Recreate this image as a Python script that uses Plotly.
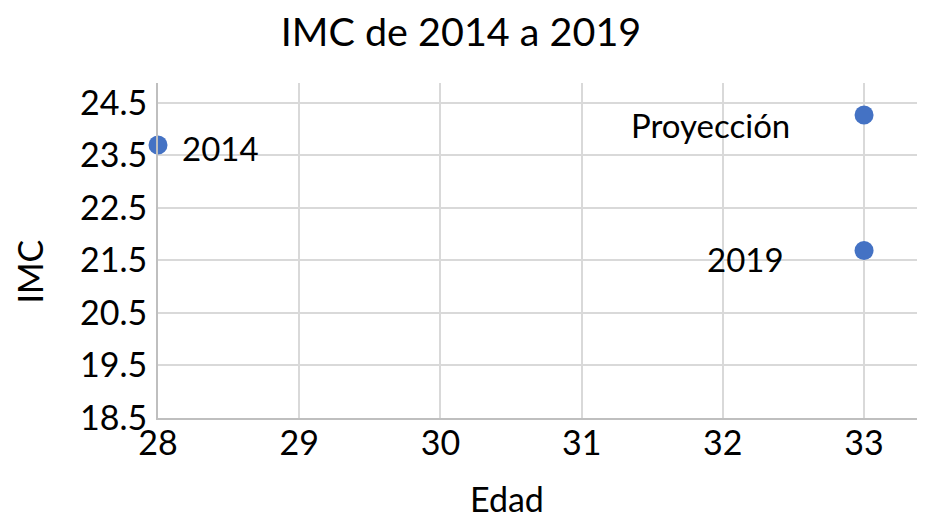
import plotly.graph_objects as go

edad = [28, 33, 33]
imc = [23.70, 24.27, 21.69]
etiquetas = ["2014", "Proyección", "2019"]
y_ticks = [18.5, 19.5, 20.5, 21.5, 22.5, 23.5, 24.5]
x_ticks = [28, 29, 30, 31, 32, 33]

font = "Lato"
fs = 34

fig = go.Figure()
fig.add_trace(go.Scatter(
    x=edad, y=imc, mode="markers",
    marker=dict(color="#4472C4", size=19),
    hoverinfo="skip", showlegend=False, cliponaxis=False,
))

# label placement (offsets in px)
shifts = {"2014": (22, -3, "left"), "Proyección": (-72, -10, "right"), "2019": (-78, -8, "right")}
for x, y, t in zip(edad, imc, etiquetas):
    xs, ys, anc = shifts[t]
    fig.add_annotation(x=x, y=y, text=t, showarrow=False, xanchor=anc, yanchor="middle",
                       xshift=xs, yshift=ys, font=dict(family=font, size=33, color="#000"))

# axis titles
fig.add_annotation(xref="paper", yref="paper", x=0, y=0, text="IMC", textangle=-90,
                   showarrow=False, xanchor="center", yanchor="middle",
                   xshift=-129.5, yshift=146, font=dict(family=font, size=fs, color="#000"))
fig.add_annotation(xref="paper", yref="paper", x=0, y=0, text="Edad",
                   showarrow=False, xanchor="center", yanchor="middle",
                   xshift=349, yshift=-80, font=dict(family=font, size=fs, color="#000"))

fig.update_layout(
    width=923, height=511,
    margin=dict(l=150, r=14, t=75, b=101, autoexpand=False),
    paper_bgcolor="white", plot_bgcolor="white",
    font=dict(family=font, size=fs, color="#000"),
    title=dict(text="IMC de 2014 a 2019", x=(461 - 8) / 923, xanchor="center",
               y=0.952, yanchor="middle",
               font=dict(family=font, size=39.5, color="#000")),
    xaxis=dict(range=[28, 33.375], tickvals=x_ticks, ticktext=[str(v) for v in x_ticks],
               showgrid=True, gridcolor="#d9d9d9", gridwidth=1.5,
               showline=True, linecolor="#bfbfbf", linewidth=2, zeroline=False,
               ticks="", tickfont=dict(size=fs), ticklabelstandoff=-6, automargin=False),
    yaxis=dict(range=[18.5, 24.88], tickvals=y_ticks, ticktext=[f"{v:.1f}" for v in y_ticks],
               showgrid=True, gridcolor="#d9d9d9", gridwidth=1.5,
               showline=True, linecolor="#bfbfbf", linewidth=2, zeroline=False,
               ticks="", tickfont=dict(size=fs), ticklabelstandoff=2, automargin=False),
)

fig.write_html("out.html")
